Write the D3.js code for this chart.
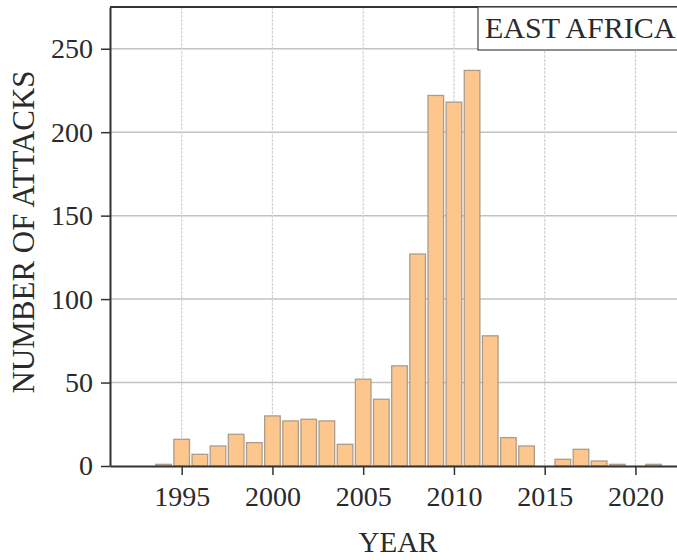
<!DOCTYPE html>
<html>
<head>
<meta charset="utf-8">
<script src="https://cdn.jsdelivr.net/npm/d3@7"></script>
<style>
body { margin: 0; background: #fff; }
text { font-family: "Liberation Serif", "DejaVu Serif", serif; fill: #2a2a2a; }
</style>
</head>
<body>
<svg id="chart" width="677" height="560"></svg>
<script>
// attacks per year
years = [1994, 1995, 1996, 1997, 1998, 1999, 2000, 2001, 2002, 2003, 2004, 2005, 2006, 2007,
         2008, 2009, 2010, 2011, 2012, 2013, 2014, 2015, 2016, 2017, 2018, 2019, 2020, 2021];
attacks = [1, 16, 7, 12, 19, 14, 30, 27, 28, 27, 13, 52, 40, 60,
           127, 222, 218, 237, 78, 17, 12, 0, 4, 10, 3, 1, 0, 1];
xTicks = [1995, 2000, 2005, 2010, 2015, 2020];
yTicks = [0, 50, 100, 150, 200, 250];
regionLabel = "EAST AFRICA";

let margin = { top: 7, right: -2, bottom: 94, left: 110 },
    width = 677 - margin.left - margin.right,
    height = 560 - margin.top - margin.bottom;

let svg = d3.select("#chart");
let g = svg.append("g").attr("transform", "translate(" + margin.left + "," + margin.top + ")");

let x = d3.scaleLinear().domain([1991.05, 2022.4]).range([0, width]);
let y = d3.scaleLinear().domain([0, 275]).range([height, 0]);
let step = x(1) - x(0);
let bw = step * 0.86;

// grid
g.selectAll(".hgrid").data(yTicks.filter(d => d > 0)).enter().append("line")
    .attr("x1", 0).attr("x2", width)
    .attr("y1", d => y(d)).attr("y2", d => y(d))
    .attr("stroke", "#c2c2c2").attr("stroke-width", 1.5);
g.selectAll(".vgrid").data(xTicks).enter().append("line")
    .attr("x1", d => x(d)).attr("x2", d => x(d))
    .attr("y1", 0).attr("y2", height)
    .attr("stroke", "#d4d4d4").attr("stroke-width", 1.2).attr("stroke-dasharray", "3,1");

// bars
g.selectAll(".bar").data(years).enter().append("rect")
    .attr("x", (d) => x(d) - bw / 2)
    .attr("width", bw)
    .attr("y", (d, i) => y(attacks[i]))
    .attr("height", (d, i) => height - y(attacks[i]))
    .attr("fill", "#fcc68c").attr("stroke", "#ad9c8b").attr("stroke-width", 1.3);

// axes
let xAxis = g.append("g").attr("transform", "translate(0," + height + ")")
    .call(d3.axisBottom(x).tickValues(xTicks).tickFormat(d3.format("d")).tickSize(9).tickSizeOuter(0));
let yAxis = g.append("g")
    .call(d3.axisLeft(y).tickValues(yTicks).tickSize(9).tickSizeOuter(0));
[xAxis, yAxis].forEach(a => {
    a.select(".domain").attr("stroke", "#333").attr("stroke-width", 2);
    a.selectAll(".tick line").attr("stroke", "#333").attr("stroke-width", 1.5);
    a.selectAll("text").style("font-size", "28px").attr("fill", "#2a2a2a");
});
xAxis.selectAll("text").attr("dy", 0).attr("y", 40);
yAxis.selectAll("text").attr("x", -17);

// frame top
g.append("line").attr("x1", 0).attr("x2", width).attr("y1", 0).attr("y2", 0)
    .attr("stroke", "#333").attr("stroke-width", 2);

// region box
g.append("rect").attr("x", 368).attr("y", 0).attr("width", 210).attr("height", 43)
    .attr("fill", "#fff").attr("stroke", "#444").attr("stroke-width", 1.2);
g.append("text").attr("x", 375).attr("y", 31).style("font-size", "30px").text(regionLabel);

// axis titles
svg.append("text").attr("x", 398).attr("y", 552)
    .attr("text-anchor", "middle").style("font-size", "29px").text("YEAR");
svg.append("text").attr("transform", "translate(34," + 232 + ") rotate(-90)")
    .attr("text-anchor", "middle").style("font-size", "31px").text("NUMBER OF ATTACKS");
</script>
</body>
</html>
